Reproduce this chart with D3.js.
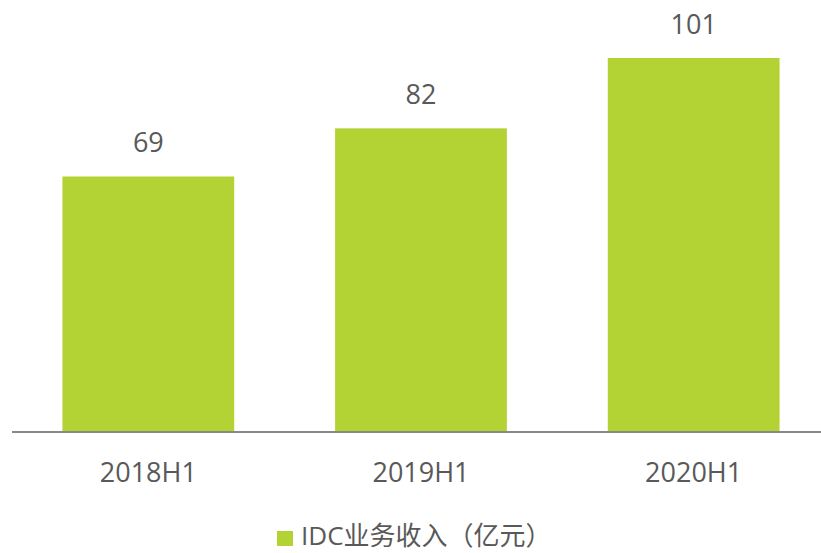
<!DOCTYPE html>
<html>
<head>
<meta charset="utf-8">
<script src="https://cdn.jsdelivr.net/npm/d3@7"></script>
<style>
  body { margin: 0; background: #fff; }
  text { font-family: "Open Sans", "Noto Sans", "Noto Sans CJK SC", sans-serif; fill: #595959; }
</style>
</head>
<body>
<div id="wrapper"></div>
<script>
// data
const categories = ["2018H1", "2019H1", "2020H1"]
const revenue = [69, 82, 101]
const seriesName = "IDC业务收入（亿元）"

function drawBarChart() {
    const width = 821
    const height = 553
    const baseline = 432

    const svg = d3.select("#wrapper")
        .append("svg")
        .attr("width", width)
        .attr("height", height)

    const xScale = d3.scaleBand()
        .domain(categories)
        .range([12, 830])
        .paddingInner(0.37)
        .paddingOuter(0.185)

    const yScale = d3.scaleLinear()
        .domain([0, 101])
        .range([baseline, 58])

    // bars
    svg.selectAll(".bar")
        .data(categories)
        .enter().append("rect")
        .attr("class", "bar")
        .attr("x", d => xScale(d))
        .attr("width", xScale.bandwidth())
        .attr("y", (d, i) => yScale(revenue[i]))
        .attr("height", (d, i) => baseline - yScale(revenue[i]))
        .attr("fill", "#B3D334")

    // value labels
    svg.selectAll(".value")
        .data(categories)
        .enter().append("text")
        .attr("class", "value")
        .attr("x", d => xScale(d) + xScale.bandwidth() / 2)
        .attr("y", (d, i) => yScale(revenue[i]) - 24)
        .attr("text-anchor", "middle")
        .style("font-size", "27px")
        .text((d, i) => revenue[i])

    // x axis
    const xAxis = svg.append("g")
        .attr("transform", `translate(0, ${baseline})`)
        .call(d3.axisBottom(xScale).tickSize(0).tickPadding(31))
    xAxis.select(".domain")
        .attr("stroke", "#898989")
        .attr("stroke-width", 2)
        .attr("d", `M12,0H${width}`)
    xAxis.selectAll("text")
        .style("font-size", "27px")
        .attr("fill", "#595959")
        .style("font-family", '"Open Sans", "Noto Sans", sans-serif')

    // legend
    const legend = svg.append("g")
    legend.append("rect")
        .attr("x", 277)
        .attr("y", 531)
        .attr("width", 16)
        .attr("height", 15)
        .attr("fill", "#B3D334")
    legend.append("text")
        .attr("x", 301)
        .attr("y", 545)
        .style("font-size", "26px")
        .text(seriesName)
}
drawBarChart()
</script>
</body>
</html>
